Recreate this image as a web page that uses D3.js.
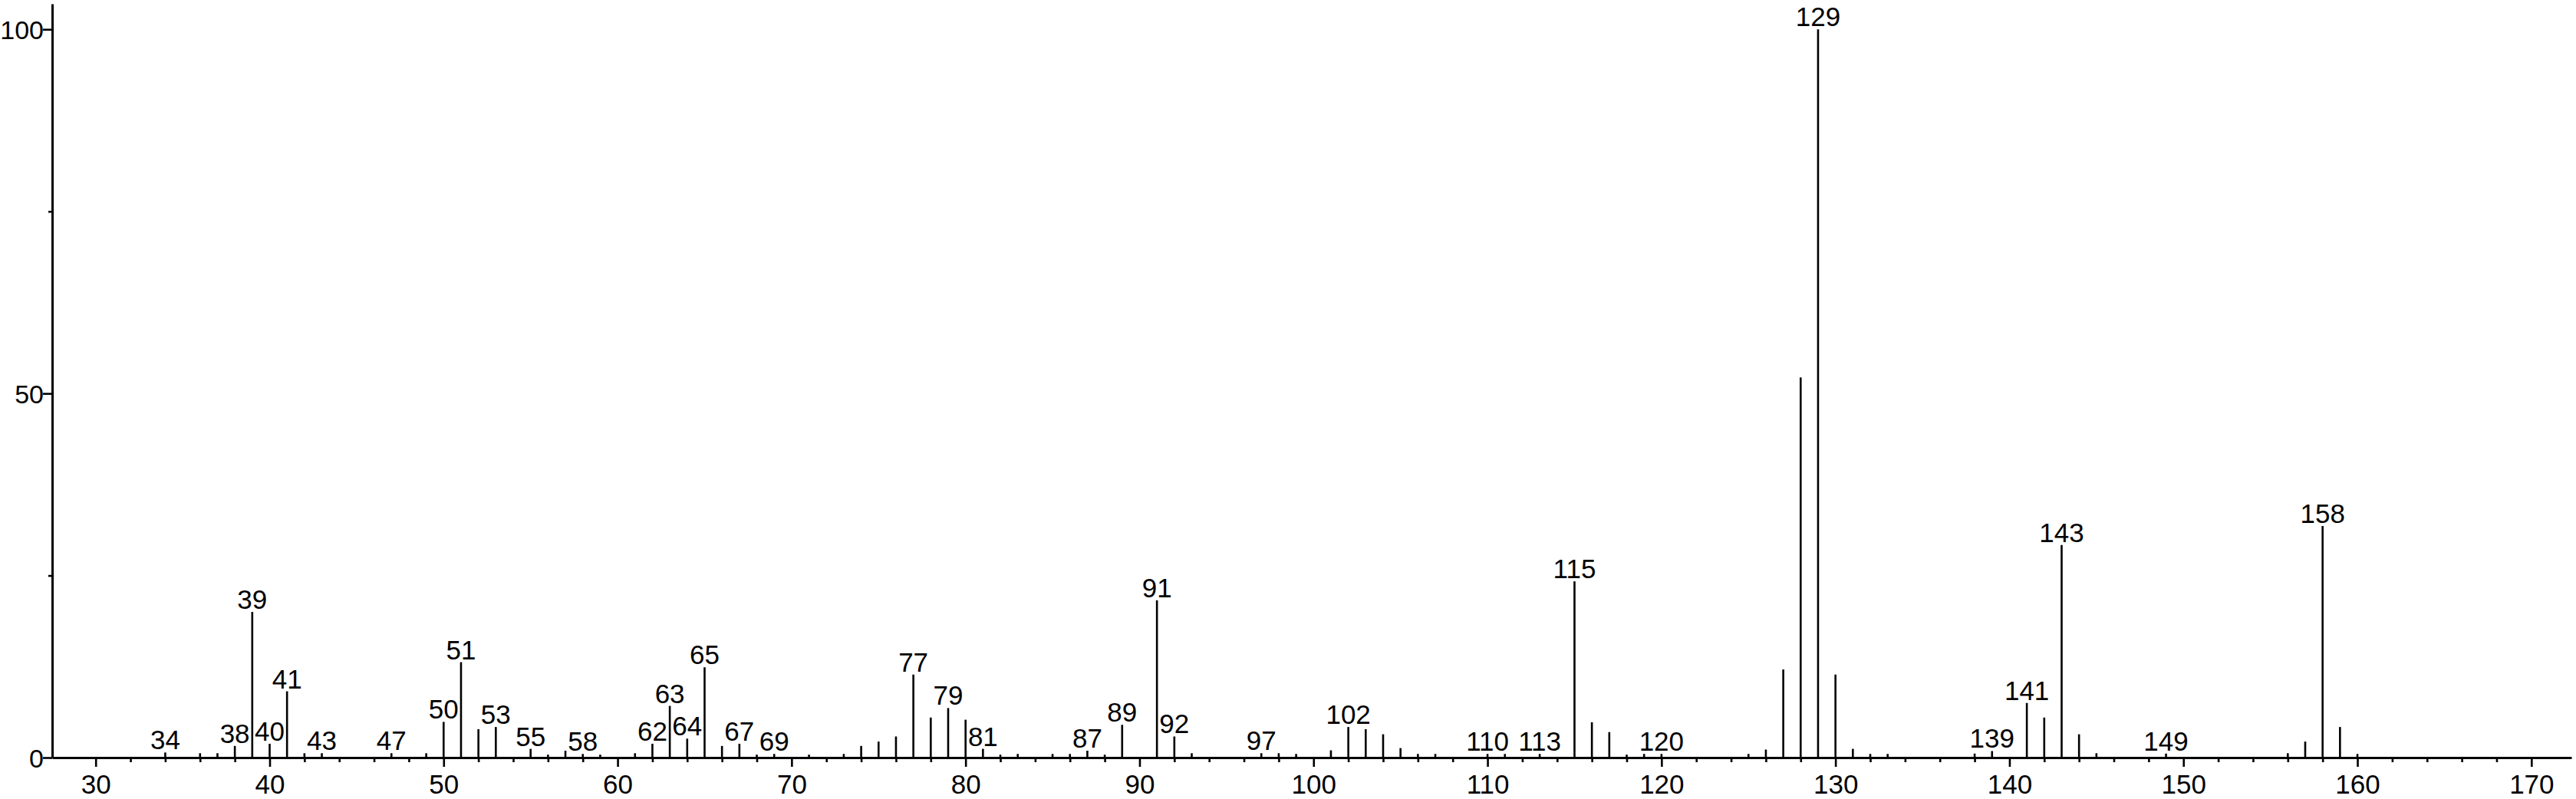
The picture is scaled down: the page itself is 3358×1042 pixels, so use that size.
<!DOCTYPE html>
<html>
<head>
<meta charset="utf-8">
<script src="https://cdn.jsdelivr.net/npm/d3@7"></script>
<style>
  html, body { margin: 0; padding: 0; background: #fff; }
  svg { display: block; }
  text { font-family: "Liberation Sans", Arial, sans-serif; fill: #000; }
</style>
</head>
<body>
<svg id="chart" width="3358" height="1042"></svg>
<script>
// m/z values of the peaks
const masses = [34, 36, 37, 38, 39, 40, 41, 42, 43, 47, 49, 50, 51, 52, 53, 55, 56, 57, 58, 59,
  61, 62, 63, 64, 65, 66, 67, 68, 69, 71, 73, 74, 75, 76, 77, 78, 79, 80, 81, 82, 83, 85, 86, 87, 88,
  89, 91, 92, 93, 97, 98, 99, 101, 102, 103, 104, 105, 106, 107, 110, 111, 113, 115, 116, 117, 118,
  119, 120, 125, 126, 127, 128, 129, 130, 131, 132, 133, 138, 139, 141, 142, 143, 144, 145, 149,
  156, 157, 158, 159, 160];
// relative intensities (%)
const intensities = [0.7, 0.6, 0.6, 1.6, 20.0, 1.9, 9.1, 0.6, 0.6, 0.6, 0.6, 4.9, 13.1, 3.9, 4.2, 1.2, 0.4, 0.95, 0.5, 0.4,
  0.6, 1.9, 7.1, 2.6, 12.4, 1.6, 1.9, 0.4, 0.5, 0.4, 0.5, 1.6, 2.2, 2.9, 11.4, 5.5, 6.8, 5.2, 1.2, 0.4, 0.5, 0.5, 0.5, 0.95, 0.4,
  4.5, 21.6, 2.9, 0.6, 0.6, 0.6, 0.5, 1.0, 4.2, 3.9, 3.2, 1.3, 0.5, 0.5, 0.5, 0.5, 0.5, 24.2, 4.85, 3.5, 0.4,
  0.5, 0.5, 0.5, 1.1, 12.1, 52.2, 100, 11.4, 1.2, 0.5, 0.5, 0.55, 0.9, 7.5, 5.5, 29.2, 3.2, 0.6, 0.55,
  0.6, 2.2, 31.8, 4.2, 0.5];
// peaks that carry an m/z label
const labelledMasses = [34, 38, 39, 40, 41, 43, 47, 50, 51, 53, 55, 58, 62, 63, 64, 65, 67, 69, 77, 79, 81,
  87, 89, 91, 92, 97, 102, 110, 113, 115, 120, 129, 139, 141, 143, 149, 158];
// axis ticks
const xMajorTicks = [30, 40, 50, 60, 70, 80, 90, 100, 110, 120, 130, 140, 150, 160, 170];
const xMinorTicks = [32, 34, 36, 38, 42, 44, 46, 48, 52, 54, 56, 58, 62, 64, 66, 68, 72, 74, 76, 78,
  82, 84, 86, 88, 92, 94, 96, 98, 102, 104, 106, 108, 112, 114, 116, 118, 122, 124, 126, 128,
  132, 134, 136, 138, 142, 144, 146, 148, 152, 154, 156, 158, 162, 164, 166, 168];
const yMajorTicks = [0, 50, 100];
const yMinorTicks = [25, 75];

const peaks = masses.map((m, i) => ({ mz: m, v: intensities[i] }));

const svg = d3.select("#chart");
const FS = 35;

const x = d3.scaleLinear().domain([27.5, 172.3]).range([68, 3352]);
const y = d3.scaleLinear().domain([0, 103.5]).range([988, 5]);

// peaks
svg.append("g").selectAll("line").data(peaks).join("line")
  .attr("x1", d => x(d.mz)).attr("x2", d => x(d.mz))
  .attr("y1", y(0)).attr("y2", d => y(d.v))
  .attr("stroke", "#000").attr("stroke-width", 2.6);

// x axis minor ticks
const gxMinor = svg.append("g").attr("transform", `translate(0,${y(0)})`)
  .call(d3.axisBottom(x).tickValues(xMinorTicks).tickSize(6).tickSizeOuter(0).tickFormat(""));
gxMinor.select(".domain").remove();
gxMinor.selectAll(".tick line").attr("stroke", "#000").attr("stroke-width", 2.6);

// x axis major
const gx = svg.append("g").attr("transform", `translate(0,${y(0)})`)
  .call(d3.axisBottom(x).tickValues(xMajorTicks).tickSize(12).tickSizeOuter(0).tickPadding(10).tickFormat(d3.format("d")));
gx.select(".domain").attr("stroke", "#000").attr("stroke-width", 3);
gx.selectAll(".tick line").attr("stroke", "#000").attr("stroke-width", 2.6);
gx.selectAll(".tick text").attr("font-size", FS).attr("font-family", "Liberation Sans, Arial, sans-serif")
  .attr("fill", "#000");

// y axis minor
const gyMinor = svg.append("g").attr("transform", `translate(${x.range()[0]},0)`)
  .call(d3.axisLeft(y).tickValues(yMinorTicks).tickSize(5).tickSizeOuter(0).tickFormat(""));
gyMinor.select(".domain").remove();
gyMinor.selectAll(".tick line").attr("stroke", "#000").attr("stroke-width", 2.6);

// y axis major
const gy = svg.append("g").attr("transform", `translate(${x.range()[0]},0)`)
  .call(d3.axisLeft(y).tickValues(yMajorTicks).tickSize(12).tickSizeOuter(0).tickPadding(-1).tickFormat(d3.format("d")));
gy.select(".domain").attr("stroke", "#000").attr("stroke-width", 3);
gy.selectAll(".tick line").attr("stroke", "#000").attr("stroke-width", 2.6);
gy.selectAll(".tick text").attr("font-size", 34).attr("font-family", "Liberation Sans, Arial, sans-serif")
  .attr("fill", "#000").attr("dy", "0.36em");

// peak labels
const labelled = peaks.filter(d => labelledMasses.includes(d.mz));
svg.append("g").selectAll("text").data(labelled).join("text")
  .attr("x", d => x(d.mz))
  .attr("y", d => y(d.v) - 4)
  .attr("text-anchor", "middle")
  .attr("font-size", FS)
  .text(d => d.mz);
</script>
</body>
</html>
